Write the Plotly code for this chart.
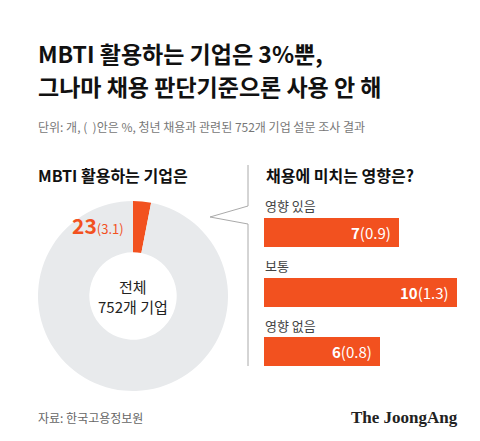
import plotly.graph_objects as go

W, H = 480, 441
pie_labels = ["MBTI 활용", "기타"]
pie_values = [23, 729]
bar_cats = ["영향 있음", "보통", "영향 없음"]
bar_vals = [7, 10, 6]
bar_pcts = ["0.9", "1.3", "0.8"]
ORANGE = "#F2511F"
FONT = "Noto Sans CJK KR"

def px(x): return x / W
def py(y): return 1 - y / H

fig = go.Figure()
fig.add_trace(go.Pie(labels=pie_labels, values=pie_values, hole=0.46, sort=False,
                     direction="clockwise", rotation=0,
                     marker=dict(colors=[ORANGE, "#E8EAEC"]), textinfo="none",
                     hoverinfo="skip", showlegend=False,
                     domain=dict(x=[px(30), px(220)], y=[py(383), py(193)])))
fig.add_trace(go.Bar(x=bar_vals, y=list(range(len(bar_cats))), orientation="h",
                     marker=dict(color=ORANGE, line=dict(width=0)), width=0.49,
                     showlegend=False, hoverinfo="skip"))

ann = []
for i, (c, v, p) in enumerate(zip(bar_cats, bar_vals, bar_pcts)):
    ann.append(dict(x=v, y=i, xref="x", yref="y", text=f"<b>{v}</b>({p})", showarrow=False,
                    xanchor="right", xshift=-6, font=dict(color="white", size=15, family=FONT)))
    ann.append(dict(x=0, y=i, xref="x", yref="y", text=c, showarrow=False,
                    xanchor="left", yanchor="bottom", yshift=15, xshift=-1,
                    font=dict(color="#444", size=13, family=FONT)))

def t(x, y, text, size, color="#111", anchor="left", family=FONT):
    ann.append(dict(x=px(x), y=py(y), xref="paper", yref="paper", text=text, showarrow=False,
                    xanchor=anchor, yanchor="middle", font=dict(size=size, color=color, family=family)))

t(28, 45, "<b>MBTI 활용하는 기업은 3%뿐,</b>", 23)
t(28, 78, "<b>그나마 채용 판단기준으론 사용 안 해</b>", 23)
t(28, 118, "단위: 개, (  )안은 %, 청년 채용과 관련된 752개 기업 설문 조사 결과", 12, "#777")
t(28, 167, "<b>MBTI 활용하는 기업은</b>", 16)
t(256, 167, "<b>채용에 미치는 영향은?</b>", 16)
t(62, 217, "<b>23</b><span style='font-size:13px'>(3.1)</span>", 21, ORANGE)
ann.append(dict(x=px(125), y=py(288), xref="paper", yref="paper",
                text="전체<br>752개 기업", showarrow=False, xanchor="center", yanchor="middle",
                font=dict(size=15, color="#222", family=FONT)))
t(28, 409, "자료: 한국고용정보원", 12, "#666")
t(452, 409, "<b>The JoongAng</b>", 17, "#222", "right", "Liberation Serif")

shapes = [
    dict(type="line", xref="paper", yref="paper", x0=px(240), x1=px(240), y0=py(157), y1=py(198), line=dict(color="#aaa", width=1)),
    dict(type="line", xref="paper", yref="paper", x0=px(240), x1=px(240), y0=py(216), y1=py(358), line=dict(color="#aaa", width=1)),
    dict(type="path", xref="paper", yref="paper",
         path=f"M {px(240)} {py(198)} L {px(202)} {py(209)} L {px(240)} {py(216)}",
         line=dict(color="#aaa", width=1)),
]

fig.update_layout(width=W, height=H, margin=dict(l=0, r=0, t=0, b=0),
                  paper_bgcolor="white", plot_bgcolor="white",
                  xaxis=dict(domain=[px(256), px(449)], range=[0, 10], visible=False, fixedrange=True),
                  yaxis=dict(domain=[py(373.25), py(194.75)], range=[2.5, -0.5], visible=False, fixedrange=True),
                  annotations=ann, shapes=shapes, bargap=0)
fig.write_html("out.html", config={"displayModeBar": False})
